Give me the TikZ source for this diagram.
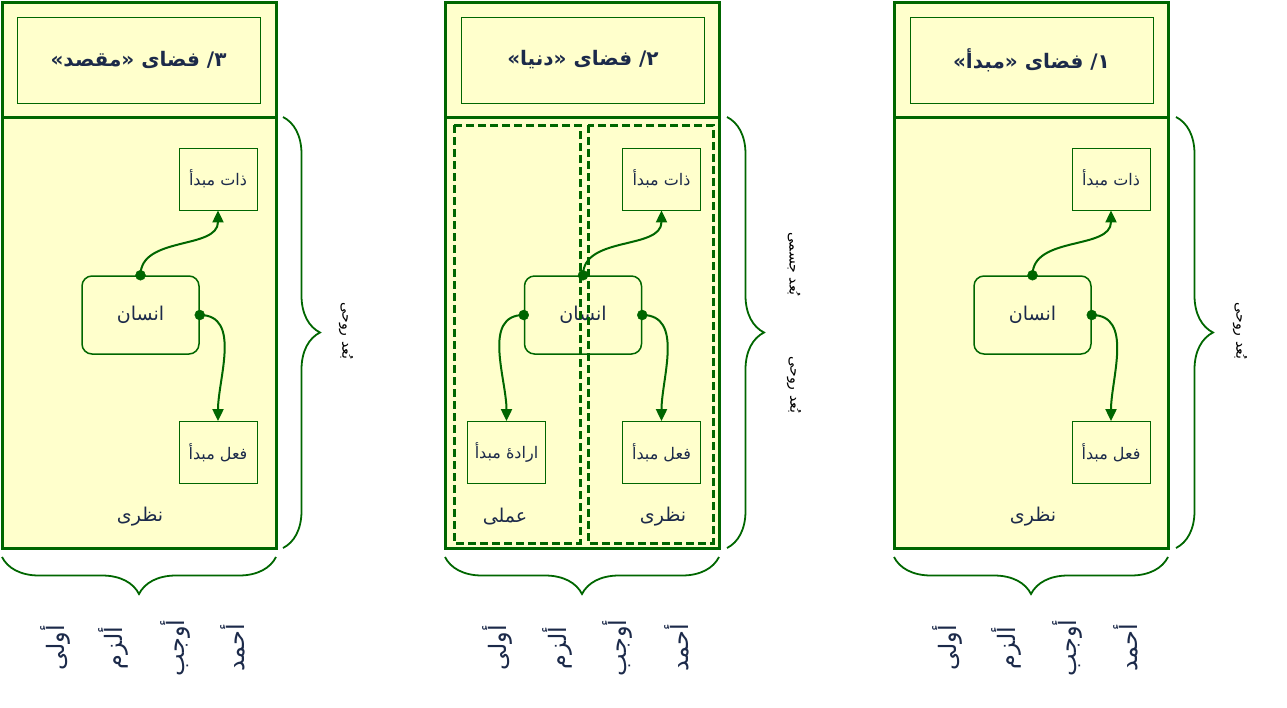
\documentclass[tikz,border=0pt]{standalone}
\usepackage{fontspec}
\usepackage{xcolor}
\usetikzlibrary{decorations.pathreplacing,arrows.meta}
\newfontfamily\arabicfont[Script=Arabic]{DejaVu Sans}
\TeXXeTstate=1
\definecolor{sabz}{HTML}{006600}
\definecolor{zard}{HTML}{FFFFCC}
\definecolor{sormei}{HTML}{1C2A4A}

\begin{document}
\begin{tikzpicture}[x=1pt,y=-1pt]
	\tikzstyle{panel} = [draw=sabz, line width=3, fill=zard]
	\tikzstyle{titlebox} = [draw=sabz, line width=0.8, fill=zard, minimum width=243, minimum height=86, text=sormei, font=\arabicfont\bfseries\fontsize{20}{24}\selectfont]
	\tikzstyle{box} = [draw=sabz, line width=0.8, minimum width=78, minimum height=62, text=sormei, font=\arabicfont\fontsize{16}{19}\selectfont]
	\tikzstyle{ensan} = [draw=sabz, line width=1.5, rounded corners=10, minimum width=117, minimum height=78, text=sormei, font=\arabicfont\fontsize{19}{23}\selectfont]
	\tikzstyle{label} = [text=sormei, font=\arabicfont\fontsize{19}{23}\selectfont]
	\tikzstyle{side} = [text=black, rotate=-90, font=\arabicfont\fontsize{14}{17}\selectfont]
	\tikzstyle{word} = [text=sormei, rotate=90, font=\arabicfont\fontsize{24}{28}\selectfont]
	\tikzstyle{edge} = [draw=sabz, line width=2, -{Triangle[length=12, width=11]}]
	\tikzstyle{half} = [draw=sabz, line width=3, dash pattern=on 8pt off 4pt]
	\tikzstyle{brace} = [draw=sabz, line width=1.8, decorate, decoration={brace, amplitude=37}]
	\useasboundingbox (0,0) rectangle (1287,707);

	\draw[panel] (2,2) rectangle (276,548);
	\draw[panel] (445,2) rectangle (719,548);
	\draw[panel] (894,2) rectangle (1168,548);
	\draw[sabz, line width=3] (2,117) -- (276,117);
	\draw[sabz, line width=3] (445,117) -- (719,117);
	\draw[sabz, line width=3] (894,117) -- (1168,117);

	\node[titlebox] (t3) at (138.5,60) {\beginR ۳/ فضای «مقصد»\endR};
	\node[titlebox] (t2) at (583,60) {\beginR ۲/ فضای «دنیا»\endR};
	\node[titlebox] (t1) at (1031.5,60) {\beginR ۱/ فضای «مبدأ»\endR};

	\node[box] (z3) at (218,179) {\beginR ذات مبدأ\endR};
	\node[ensan] (e3) at (140.5,315) {\beginR انسان\endR};
	\node[box] (f3) at (218,452.5) {\beginR فعل مبدأ\endR};
	\node[label] (n3) at (140,517) {\beginR نظری\endR};

	\node[box] (z2) at (661.5,179) {\beginR ذات مبدأ\endR};
	\node[ensan] (e2) at (583,315) {\beginR انسان\endR};
	\node[box] (f2) at (661.5,452.5) {\beginR فعل مبدأ\endR};
	\node[box] (r2) at (506.5,452.5) {\beginR ارادهٔ مبدأ\endR};
	\node[label] (n2) at (663,517) {\beginR نظری\endR};
	\node[label] (a2) at (505,517) {\beginR عملی\endR};
	\draw[half] (454,125) rectangle (580,543);
	\draw[half] (588,125) rectangle (713,543);

	\node[box] (z1) at (1111,179) {\beginR ذات مبدأ\endR};
	\node[ensan] (e1) at (1032.5,315) {\beginR انسان\endR};
	\node[box] (f1) at (1111,452.5) {\beginR فعل مبدأ\endR};
	\node[label] (n1) at (1033,517) {\beginR نظری\endR};

	\draw[edge] (e3.north) to[out=90, in=-90] (z3.south);
	\draw[edge] (e3.east) to[out=0, in=90] (f3.north);
	\draw[edge] (e2.north) to[out=90, in=-90] (z2.south);
	\draw[edge] (e2.east) to[out=0, in=90] (f2.north);
	\draw[edge] (e2.west) to[out=180, in=90] (r2.north);
	\draw[edge] (e1.north) to[out=90, in=-90] (z1.south);
	\draw[edge] (e1.east) to[out=0, in=90] (f1.north);
	\filldraw[sabz]
			(e3.north) circle (5)
			(e3.east) circle (5)
			(e2.north) circle (5)
			(e2.east) circle (5)
			(e2.west) circle (5)
			(e1.north) circle (5)
			(e1.east) circle (5);

	\draw[brace] (283,117) -- (283,548);
	\draw[brace] (727,117) -- (727,548);
	\draw[brace] (1176,117) -- (1176,548);
	\draw[brace] (276,557) -- (2,557);
	\draw[brace] (719,557) -- (445,557);
	\draw[brace] (1168,557) -- (894,557);

	\node[side] (s3) at (346,331) {\beginR بُعد روحی\endR};
	\node[side] (j2) at (794,264) {\beginR بُعد جسمی\endR};
	\node[side] (s2) at (794,385) {\beginR بُعد روحی\endR};
	\node[side] (s1) at (1240,331) {\beginR بُعد روحی\endR};

	\node[word] (w31) at (55,648) {\beginR أولی\endR};
	\node[word] (w32) at (113,648) {\beginR ألزم\endR};
	\node[word] (w33) at (175,648) {\beginR أوجب\endR};
	\node[word] (w34) at (233,648) {\beginR أحمد\endR};
	\node[word] (w21) at (497,648) {\beginR أولی\endR};
	\node[word] (w22) at (557,648) {\beginR ألزم\endR};
	\node[word] (w23) at (617,648) {\beginR أوجب\endR};
	\node[word] (w24) at (677,648) {\beginR أحمد\endR};
	\node[word] (w11) at (947,648) {\beginR أولی\endR};
	\node[word] (w12) at (1006,648) {\beginR ألزم\endR};
	\node[word] (w13) at (1067,648) {\beginR أوجب\endR};
	\node[word] (w14) at (1126,648) {\beginR أحمد\endR};
\end{tikzpicture}
\end{document}
